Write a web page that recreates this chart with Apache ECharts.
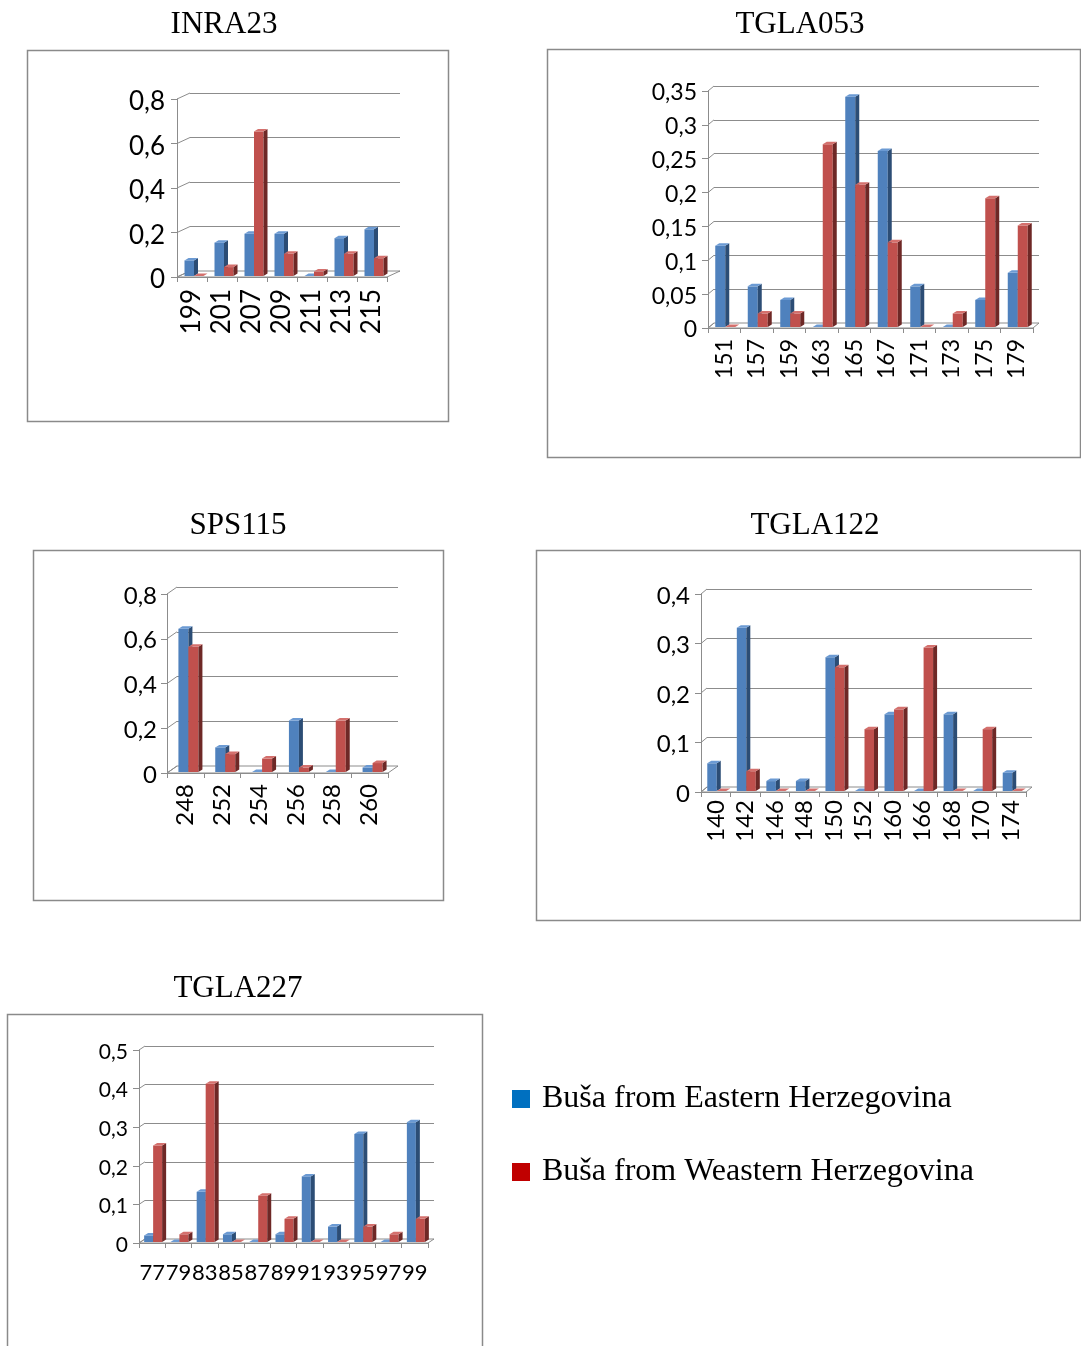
<!DOCTYPE html>
<html>
<head>
<meta charset="utf-8">
<script src="https://cdn.jsdelivr.net/npm/echarts@6/dist/echarts.min.js"></script>
<style>
  html, body { margin: 0; padding: 0; background: #ffffff; }
  #chart { width: 1081px; height: 1346px; }
</style>
</head>
<body>
<div id="chart"></div>
<script>
// Allele frequencies per microsatellite locus for the two Buša populations
const seriesNames = ['Buša from Eastern Herzegovina', 'Buša from Weastern Herzegovina'];

const inraCats = ['199', '201', '207', '209', '211', '213', '215'];
const inraEast = [0.07, 0.15, 0.19, 0.19, 0, 0.17, 0.21];
const inraWest = [0, 0.04, 0.65, 0.1, 0.02, 0.1, 0.08];
const inraTicks = [0, 0.2, 0.4, 0.6, 0.8];

const tgla053Cats = ['151', '157', '159', '163', '165', '167', '171', '173', '175', '179'];
const tgla053East = [0.12, 0.06, 0.04, 0, 0.34, 0.26, 0.06, 0, 0.04, 0.08];
const tgla053West = [0, 0.02, 0.02, 0.27, 0.21, 0.125, 0, 0.02, 0.19, 0.15];
const tgla053Ticks = [0, 0.05, 0.1, 0.15, 0.2, 0.25, 0.3, 0.35];

const sps115Cats = ['248', '252', '254', '256', '258', '260'];
const sps115East = [0.64, 0.11, 0, 0.23, 0, 0.02];
const sps115West = [0.56, 0.08, 0.06, 0.02, 0.23, 0.04];
const sps115Ticks = [0, 0.2, 0.4, 0.6, 0.8];

const tgla122Cats = ['140', '142', '146', '148', '150', '152', '160', '166', '168', '170', '174'];
const tgla122East = [0.056, 0.33, 0.02, 0.02, 0.27, 0, 0.155, 0, 0.155, 0, 0.037];
const tgla122West = [0, 0.04, 0, 0, 0.25, 0.125, 0.165, 0.29, 0, 0.125, 0];
const tgla122Ticks = [0, 0.1, 0.2, 0.3, 0.4];

const tgla227Cats = ['77', '79', '83', '85', '87', '89', '91', '93', '95', '97', '99'];
const tgla227East = [0.017, 0, 0.13, 0.02, 0, 0.02, 0.17, 0.04, 0.28, 0, 0.31];
const tgla227West = [0.25, 0.02, 0.41, 0, 0.12, 0.06, 0, 0, 0.04, 0.02, 0.06];
const tgla227Ticks = [0, 0.1, 0.2, 0.3, 0.4, 0.5];

// Panel layout: front plane of each pseudo-3D plot, wall depth, frame box
const panels = [
  { title: 'INRA23', cats: inraCats, east: inraEast, west: inraWest, ticks: inraTicks,
    titleX: 224, titleY: 9, grid: { left: 177, top: 99, width: 210, height: 178 },
    depth: [13, 6], barW: 9.5, shift: 2, font: 26, yFont: 26, rotate: 90, yMargin: 12, xMargin: 12,
    yNudge: 3, box: [27, 50, 421, 371] },
  { title: 'TGLA053', cats: tgla053Cats, east: tgla053East, west: tgla053West, ticks: tgla053Ticks,
    titleX: 800, titleY: 9, grid: { left: 708, top: 91, width: 325, height: 237 },
    depth: [6, 5], barW: 10, shift: 1, font: 23, yFont: 23, rotate: 90, yMargin: 11, xMargin: 11,
    yNudge: 2, box: [547, 49, 533, 408] },
  { title: 'SPS115', cats: sps115Cats, east: sps115East, west: sps115West, ticks: sps115Ticks,
    titleX: 238, titleY: 510, grid: { left: 167, top: 594, width: 221, height: 179 },
    depth: [10, 7], barW: 10, shift: 3, font: 24, yFont: 24, rotate: 90, yMargin: 10, xMargin: 11,
    yNudge: 2, box: [33, 550, 410, 350] },
  { title: 'TGLA122', cats: tgla122Cats, east: tgla122East, west: tgla122West, ticks: tgla122Ticks,
    titleX: 815, titleY: 510, grid: { left: 701, top: 594, width: 325, height: 198 },
    depth: [6, 5], barW: 9.5, shift: 1, font: 24, yFont: 24, rotate: 90, yMargin: 11, xMargin: 8,
    yNudge: 2, box: [536, 550, 544, 370] },
  { title: 'TGLA227', cats: tgla227Cats, east: tgla227East, west: tgla227West, ticks: tgla227Ticks,
    titleX: 238, titleY: 973, grid: { left: 139, top: 1050, width: 289, height: 193 },
    depth: [6, 4], barW: 9, shift: 1, font: 22, yFont: 21, rotate: 0, yMargin: 11, xMargin: 19,
    yNudge: 2, box: [7, 1014, 475, 345] }
];

const AXIS_GRAY = '#8c8c8c';
const LABEL_FONT = 'Lato, "Open Sans", sans-serif';
const SERIF = '"Liberation Serif", "DejaVu Serif", serif';

const blueFaces = { front: '#4f81bd', side: '#2c4d75', top: '#6b9ad3' };
const redFaces = { front: '#c0504d', side: '#6e2826', top: '#d4706d' };

const fmt = v => String(+Number(v).toFixed(3)).replace('.', ',');

// Floor slab and left-wall diagonals, derived from the value axis scale
function frameRenderer(p) {
  return function (params, api) {
    const cs = params.coordSys;
    const dx = p.depth[0], dy = p.depth[1];
    const x0 = cs.x, x1 = cs.x + cs.width;
    const y0 = api.coord([0, 0])[1];
    const children = [];
    children.push({
      type: 'polygon',
      shape: { points: [[x0, y0], [x1, y0], [x1 + dx, y0 - dy], [x0 + dx, y0 - dy]] },
      style: { fill: '#ffffff', stroke: AXIS_GRAY, lineWidth: 1 }
    });
    p.ticks.forEach(t => {
      const y = api.coord([0, t])[1];
      children.push({
        type: 'line',
        shape: { x1: x0, y1: y, x2: x0 + dx, y2: y - dy },
        style: { stroke: AXIS_GRAY, lineWidth: 1 }
      });
    });
    return { type: 'group', children };
  };
}

// Column drawn as a prism: front face, right side face and top face
function barRenderer(p, which, faces) {
  const bdx = 4, bdy = 2.5;
  return function (params, api) {
    const idx = api.value(0);
    const v = api.value(1);
    const base = api.coord([idx, 0]);
    const topPt = api.coord([idx, v]);
    const w = p.barW;
    const x = (which === 0 ? base[0] - w : base[0]) + p.shift;
    const yb = base[1] - 1;
    const yt = topPt[1] - 1;
    return {
      type: 'group',
      children: [
        { type: 'rect', shape: { x: x, y: yt, width: w, height: Math.max(0, yb - yt) },
          style: { fill: faces.front } },
        { type: 'polygon',
          shape: { points: [[x + w, yt], [x + w + bdx, yt - bdy], [x + w + bdx, yb - bdy], [x + w, yb]] },
          style: { fill: faces.side } },
        { type: 'polygon',
          shape: { points: [[x, yt], [x + bdx, yt - bdy], [x + w + bdx, yt - bdy], [x + w, yt]] },
          style: { fill: faces.top } }
      ]
    };
  };
}

const option = {
  backgroundColor: '#ffffff',
  animation: false,
  title: [],
  grid: [],
  xAxis: [],
  yAxis: [],
  series: [],
  legend: {
    orient: 'vertical',
    left: 512,
    top: 1083,
    padding: 0,
    itemGap: 41,
    itemWidth: 18,
    itemHeight: 18,
    icon: 'rect',
    selectedMode: false,
    textStyle: { fontFamily: SERIF, fontSize: 32, color: '#000000', padding: [0, 0, 0, 7] },
    data: [
      { name: seriesNames[0], itemStyle: { color: '#0070c0' } },
      { name: seriesNames[1], itemStyle: { color: '#c00000' } }
    ]
  },
  graphic: []
};

const n = panels.length;
panels.forEach((p, i) => {
  const yMin = p.ticks[0];
  const yMax = p.ticks[p.ticks.length - 1];
  const step = p.ticks[1] - p.ticks[0];

  option.title.push({
    text: p.title, left: p.titleX, top: p.titleY, textAlign: 'center', padding: 0,
    textStyle: { fontFamily: SERIF, fontSize: 31, fontWeight: 'normal', color: '#000000' }
  });

  // front plane grid
  option.grid.push({ left: p.grid.left, top: p.grid.top, width: p.grid.width, height: p.grid.height });
  option.xAxis.push({
    gridIndex: i, type: 'category', data: p.cats, boundaryGap: true,
    axisLine: { show: true, lineStyle: { color: AXIS_GRAY, width: 1 } },
    axisTick: { show: true, length: 5, lineStyle: { color: AXIS_GRAY } },
    axisLabel: { interval: 0, rotate: p.rotate, margin: p.xMargin, color: '#000000',
      fontFamily: LABEL_FONT, fontSize: p.font },
    splitLine: { show: false }
  });
  // labels sit a little below their tick: top-anchored box whose line is 2*nudge tall
  option.yAxis.push({
    gridIndex: i, type: 'value', min: yMin, max: yMax, interval: step,
    axisLine: { show: true, lineStyle: { color: AXIS_GRAY, width: 1 } },
    axisTick: { show: true, length: 6, lineStyle: { color: AXIS_GRAY } },
    axisLabel: { margin: p.yMargin, color: '#000000', fontFamily: LABEL_FONT, fontSize: p.yFont,
      verticalAlign: 'top', lineHeight: 2 * p.yNudge, formatter: fmt },
    splitLine: { show: false }
  });
});

// back wall grids carrying the horizontal gridlines
panels.forEach((p, i) => {
  const yMin = p.ticks[0];
  const yMax = p.ticks[p.ticks.length - 1];
  const step = p.ticks[1] - p.ticks[0];
  option.grid.push({ left: p.grid.left + p.depth[0], top: p.grid.top - p.depth[1],
    width: p.grid.width, height: p.grid.height });
  option.xAxis.push({ gridIndex: n + i, type: 'category', data: p.cats, show: false });
  option.yAxis.push({
    gridIndex: n + i, type: 'value', min: yMin, max: yMax, interval: step,
    axisLine: { show: false }, axisTick: { show: false }, axisLabel: { show: false },
    splitLine: { show: true, lineStyle: { color: AXIS_GRAY, width: 1 } }
  });
});

panels.forEach((p, i) => {
  option.series.push({
    type: 'custom', xAxisIndex: i, yAxisIndex: i, z: 1, silent: true,
    renderItem: frameRenderer(p), data: [[0, 0]]
  });
  option.series.push({
    type: 'custom', name: seriesNames[0], xAxisIndex: i, yAxisIndex: i, z: 2,
    itemStyle: { color: blueFaces.front },
    encode: { x: 0, y: 1 },
    renderItem: barRenderer(p, 0, blueFaces),
    data: p.east.map((v, k) => [k, v])
  });
  option.series.push({
    type: 'custom', name: seriesNames[1], xAxisIndex: i, yAxisIndex: i, z: 3,
    itemStyle: { color: redFaces.front },
    encode: { x: 0, y: 1 },
    renderItem: barRenderer(p, 1, redFaces),
    data: p.west.map((v, k) => [k, v])
  });
  option.graphic.push({
    type: 'rect', z: -10, silent: true,
    shape: { x: p.box[0] + 0.5, y: p.box[1] + 0.5, width: p.box[2], height: p.box[3] },
    style: { fill: 'none', stroke: '#8a8a8a', lineWidth: 1.5 }
  });
});

const chart = echarts.init(document.getElementById('chart'), null, { renderer: 'canvas' });
chart.setOption(option);
</script>
</body>
</html>
